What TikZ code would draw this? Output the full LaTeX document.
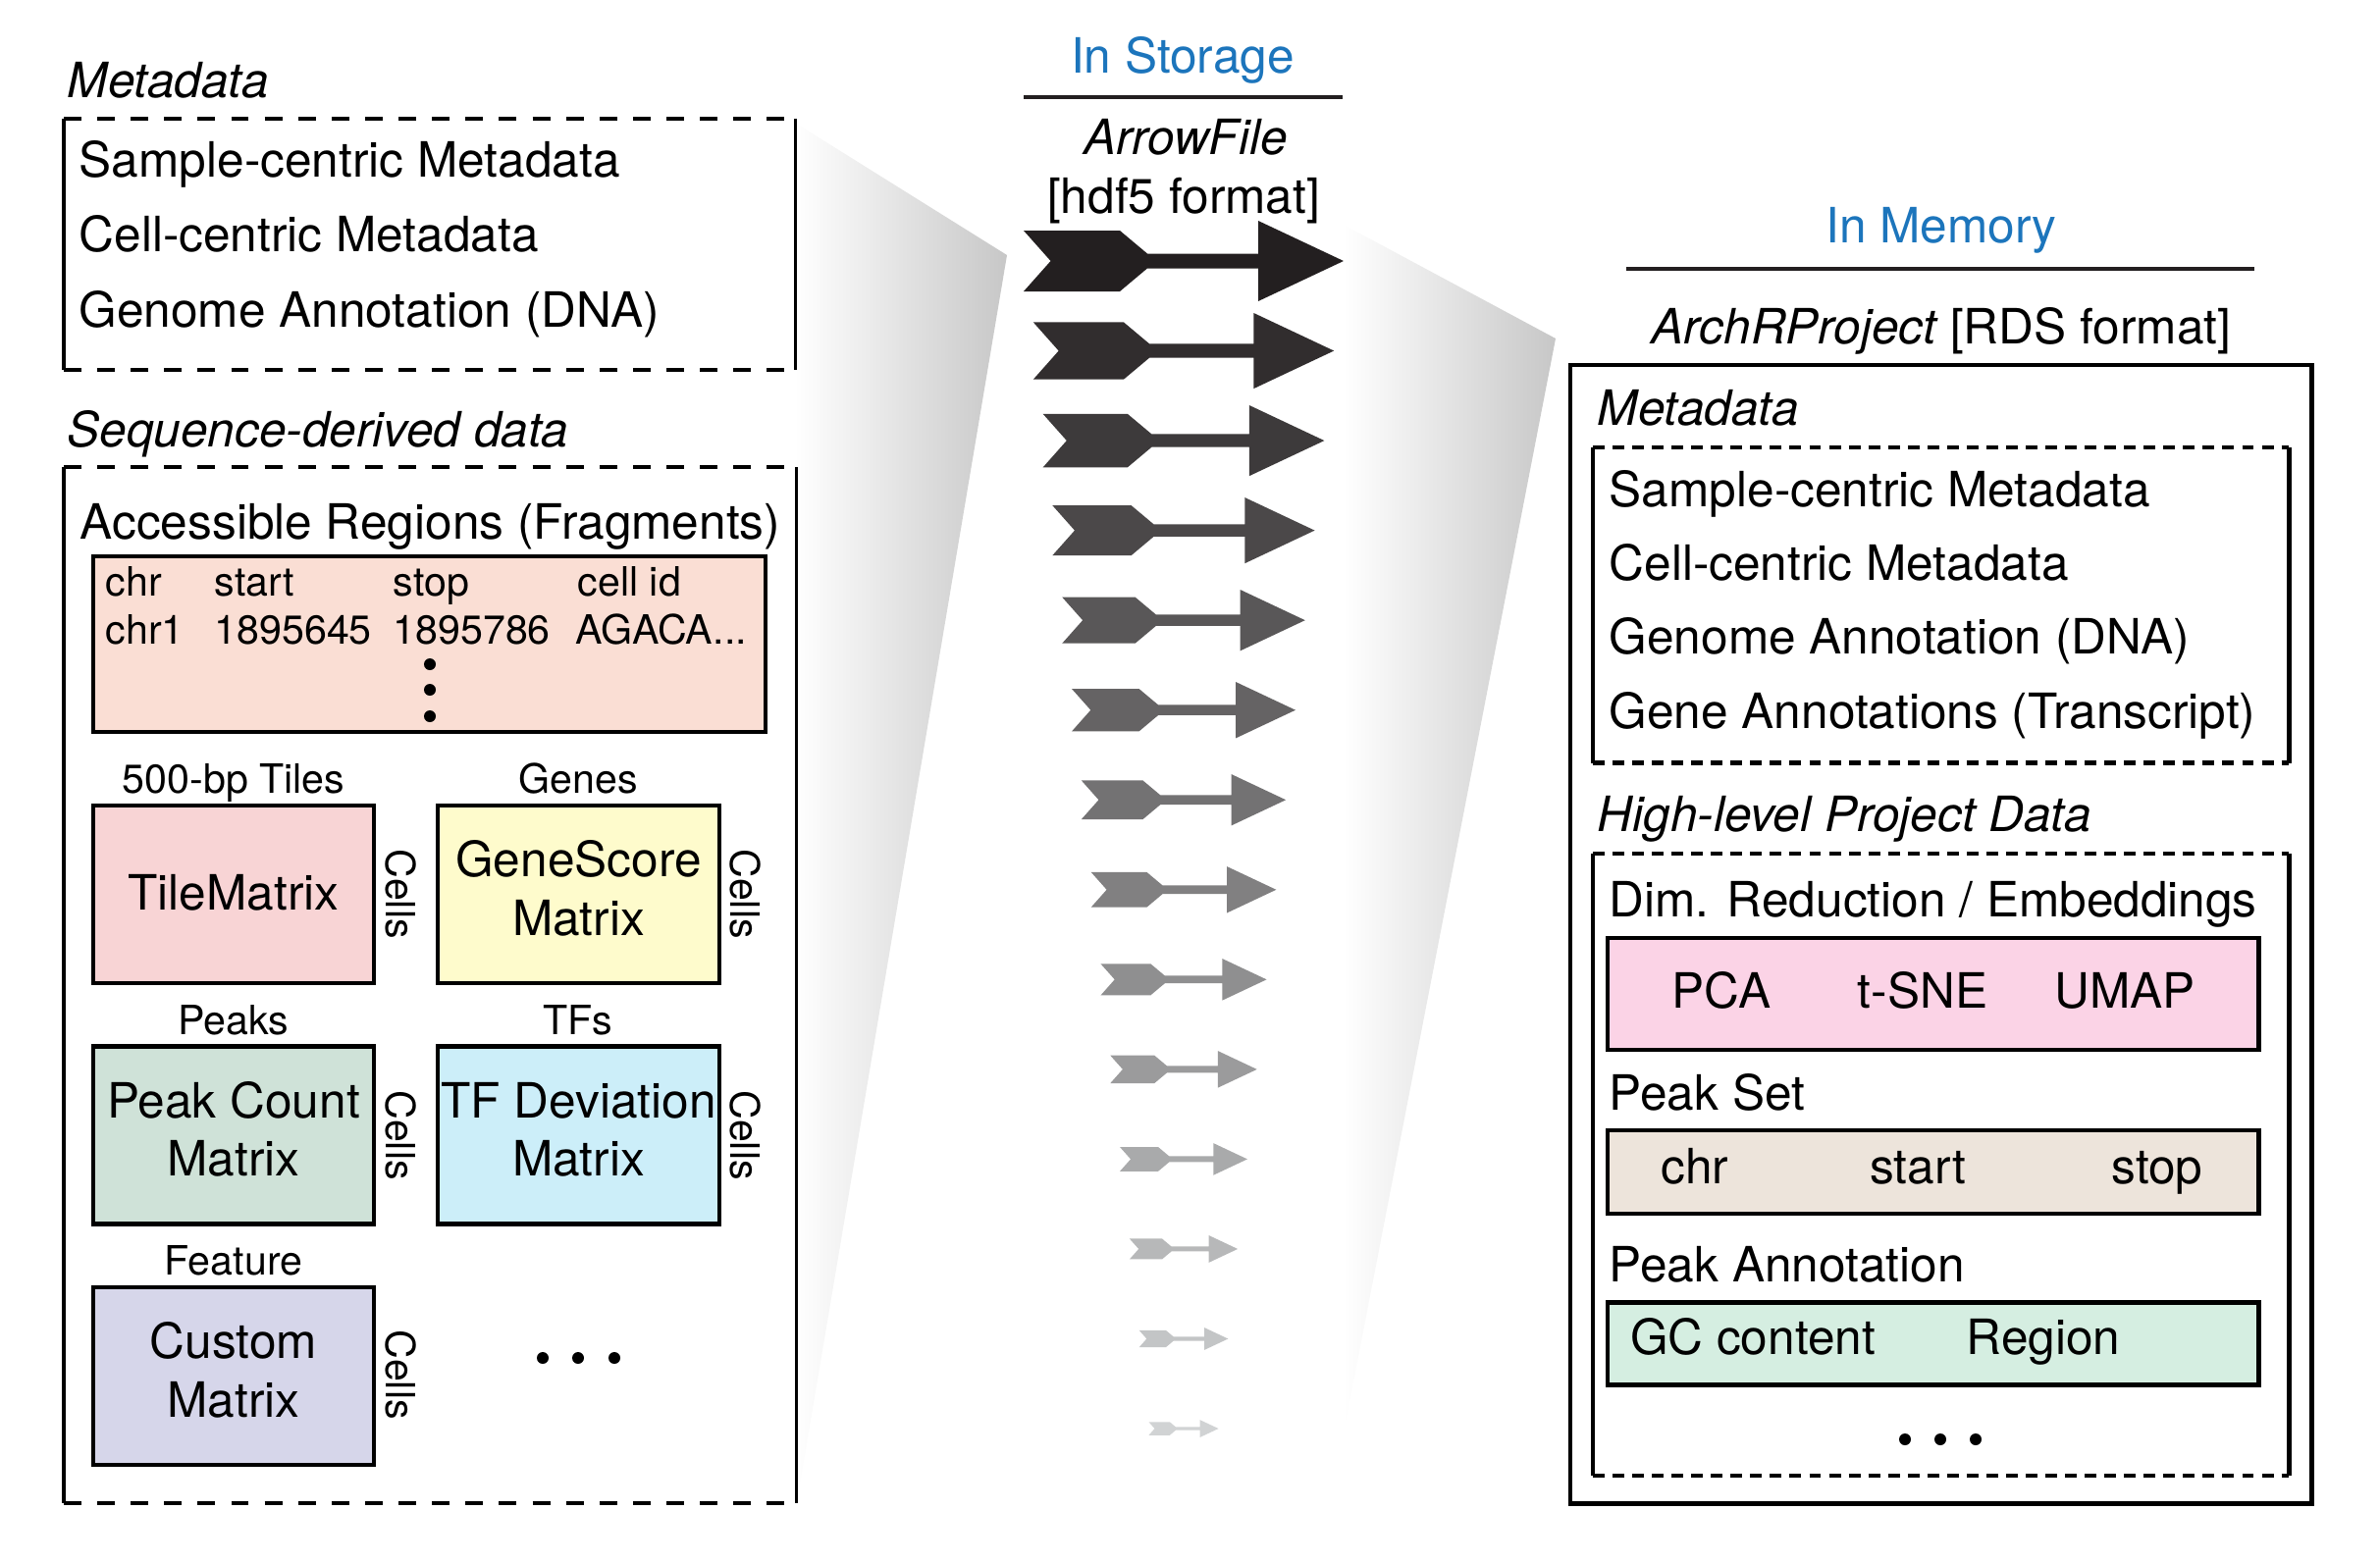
\documentclass[tikz,border=0pt]{standalone}
\usepackage{fontspec}
\setmainfont{TeX Gyre Heros}
\definecolor{blueT}{RGB}{28,117,188}
\definecolor{fragC}{RGB}{250,222,212}
\definecolor{tileC}{RGB}{248,212,213}
\definecolor{geneC}{RGB}{254,251,204}
\definecolor{peakC}{RGB}{207,226,216}
\definecolor{tfC}{RGB}{204,238,249}
\definecolor{custC}{RGB}{214,214,234}
\definecolor{pcaC}{RGB}{251,211,230}
\definecolor{chrC}{RGB}{237,228,219}
\definecolor{gcC}{RGB}{213,238,225}
\definecolor{arrD}{RGB}{35,31,32}
\definecolor{arrL}{RGB}{209,211,212}
\newcommand{\twoline}[2]{\raisebox{1.8pt}{\begin{tabular}{@{}c@{}}#1\\#2\end{tabular}}}
\tikzset{
  big/.style={font=\fontsize{14.1}{17}\selectfont, inner sep=0pt},
  small/.style={font=\fontsize{11.7}{14}\selectfont, inner sep=0pt},
  mbox/.style={draw=black, line width=1.3pt, inner sep=0pt, align=center,
               font=\fontsize{14.1}{17}\selectfont},
  area/.style={inner sep=0pt, outer sep=0pt},
  sideline/.style={line width=1.1pt},
  sidelineR/.style={line width=1.25pt},
  dashL/.style={line width=1.1pt, dash pattern=on 5.1pt off 4.6pt},
  dashR/.style={line width=1.25pt, dash pattern=on 3.4pt off 2.3pt},
  rule/.style={line width=1.2pt, color=arrD},
  cellslab/.style={small, rotate=-90},
}
\begin{document}
\begin{tikzpicture}[x=0.01cm, y=-0.01cm]
\useasboundingbox (0,0) rectangle (2425,1591);

% projection wedges
\shade[left color=white, right color=black!22] (810,125) -- (1026,260) -- (812,1531) -- (810,1531) -- cycle;
\shade[left color=white, right color=black!22] (1369,229) -- (1585,345) -- (1369,1460) -- cycle;

% ---------------- left side ----------------
\node[big, anchor=base west] (lmetaT) at (68,100) {\itshape Metadata};
\node[area, anchor=north west, minimum width=7.45cm, minimum height=2.56cm] (lmeta) at (65,121) {};
\draw[sideline] (lmeta.north west) -- (lmeta.south west);
\draw[sideline] (lmeta.north east) -- (lmeta.south east);
\draw[dashL] (lmeta.north west) -- (lmeta.north east);
\draw[dashL] (lmeta.south west) -- (lmeta.south east);
\node[big, anchor=base west] (ls1) at (80,180) {Sample-centric Metadata};
\node[big, anchor=base west] (ls2) at (80,256) {Cell-centric Metadata};
\node[big, anchor=base west] (ls3) at (80,333) {Genome Annotation (DNA)};

\node[big, anchor=base west] (seqT) at (68,455) {\itshape Sequence-derived data};
\node[area, anchor=north west, minimum width=7.46cm, minimum height=10.55cm] (seq) at (65,476) {};
\draw[sideline] (seq.north west) -- (seq.south west);
\draw[sideline] (seq.north east) -- (seq.south east);
\draw[dashL] (seq.north west) -- (seq.north east);
\draw[dashL] (seq.south west) -- (seq.south east);

\node[big, anchor=base west] (accT) at (81,549) {Accessible Regions (Fragments)};
\node[mbox, fill=fragC, minimum width=6.85cm, minimum height=1.79cm] (frag) at (437.5,656.5) {};
\node[small, anchor=base west] (h1) at (107,607) {chr};
\node[small, anchor=base west] (h2) at (218,607) {start};
\node[small, anchor=base west] (h3) at (400,607) {stop};
\node[small, anchor=base west] (h4) at (588,607) {cell id};
\node[small, anchor=base west] (r1) at (107,656) {chr1};
\node[small, anchor=base west] (r2) at (218,656) {1895645};
\node[small, anchor=base west] (r3) at (400,656) {1895786};
\node[small, anchor=base west] (r4) at (586,656) {AGACA...};
\fill (438,677) circle[radius=0.6mm];
\fill (438,703) circle[radius=0.6mm];
\fill (438,730) circle[radius=0.6mm];

\node[small, anchor=base] (tilesT) at (238,808) {500-bp Tiles};
\node[small, anchor=base] (genesT) at (589,808) {Genes};
\node[mbox, fill=tileC, minimum width=2.86cm, minimum height=1.81cm] (tile) at (238,911.5) {\raisebox{1.2pt}{TileMatrix}};
\node[mbox, fill=geneC, minimum width=2.87cm, minimum height=1.81cm] (gene) at (589.5,911.5) {\twoline{GeneScore}{Matrix}};
\node[cellslab] (c1) at (408,911) {Cells};
\node[cellslab] (c2) at (759,911) {Cells};

\node[small, anchor=base] (peaksT) at (238,1054) {Peaks};
\node[small, anchor=base] (tfsT) at (589,1054) {TFs};
\node[mbox, fill=peakC, minimum width=2.86cm, minimum height=1.81cm] (peak) at (238,1157) {\twoline{Peak Count}{Matrix}};
\node[mbox, fill=tfC, minimum width=2.87cm, minimum height=1.81cm] (tf) at (589.5,1157) {\twoline{TF Deviation}{Matrix}};
\node[cellslab] (c3) at (408,1157) {Cells};
\node[cellslab] (c4) at (759,1157) {Cells};

\node[small, anchor=base] (featT) at (238,1299) {Feature};
\node[mbox, fill=custC, minimum width=2.86cm, minimum height=1.81cm] (cust) at (238,1402.5) {\twoline{Custom}{Matrix}};
\node[cellslab] (c5) at (408,1401) {Cells};
\fill (553,1384) circle[radius=0.6mm];
\fill (589,1384) circle[radius=0.6mm];
\fill (626,1384) circle[radius=0.6mm];

% ---------------- middle ----------------
\node[big, anchor=base, text=blueT] (storT) at (1205,75) {In Storage};
\draw[rule] (1043,99) -- (1368,99);
\node[big, anchor=base] (arrowT) at (1208,157) {\itshape ArrowFile};
\node[big, anchor=base] (hdfT) at (1206,218) {[hdf5 format]};

\foreach \i in {0,...,13}{
  \pgfmathsetmacro\s{1-0.06016*\i}
  \pgfmathsetmacro\cy{266+91.54*\i}
  \pgfmathtruncatemacro\p{round(\i/13*100)}
  \colorlet{arrc}{arrL!\p!arrD}
  \fill[arrc, shift={(1206,\cy)}, scale=\s]
    (-163,-31) -- (-65,-31) -- (-37,-7.5) -- (76,-7.5) -- (76,-41) -- (163,0)
    -- (76,41) -- (76,7.5) -- (-37,7.5) -- (-65,31) -- (-163,31) -- (-135.5,0) -- cycle;
}

% ---------------- right side ----------------
\node[big, anchor=base, text=blueT] (memT) at (1978,247) {In Memory};
\draw[rule] (1657,274) -- (2297,274);
\node[big, anchor=base] (projT) at (1978,350) {\itshape ArchRProject\upshape{} [RDS format]};
\node[area, draw, line width=1.4pt, anchor=north west, minimum width=7.55cm, minimum height=11.6cm] (proj) at (1600,372) {};

\node[big, anchor=base west] (rmetaT) at (1627,433) {\itshape Metadata};
\node[area, anchor=north west, minimum width=7.09cm, minimum height=3.215cm] (rmeta) at (1623,456) {};
\draw[sidelineR] (rmeta.north west) -- (rmeta.south west);
\draw[sidelineR] (rmeta.north east) -- (rmeta.south east);
\draw[dashR] (rmeta.north west) -- (rmeta.north east);
\draw[dashR] (rmeta.south west) -- (rmeta.south east);
\node[big, anchor=base west] (rs1) at (1639,516) {Sample-centric Metadata};
\node[big, anchor=base west] (rs2) at (1639,591) {Cell-centric Metadata};
\node[big, anchor=base west] (rs3) at (1639,666) {Genome Annotation (DNA)};
\node[big, anchor=base west] (rs4) at (1639,742) {Gene Annotations (Transcript)};

\node[big, anchor=base west] (hlT) at (1627,847) {\itshape High-level Project Data};
\node[area, anchor=north west, minimum width=7.09cm, minimum height=6.335cm] (hl) at (1623,870) {};
\draw[sidelineR] (hl.north west) -- (hl.south west);
\draw[sidelineR] (hl.north east) -- (hl.south east);
\draw[dashR] (hl.north west) -- (hl.north east);
\draw[dashR] (hl.south west) -- (hl.south east);

\node[big, anchor=base west] (dimT) at (1639,934) {Dim. Reduction / Embeddings};
\node[mbox, fill=pcaC, minimum width=6.63cm, minimum height=1.14cm] (pca) at (1969.5,1013) {};
\node[big, anchor=base] (pcaA) at (1754,1027) {PCA};
\node[big, anchor=base] (pcaB) at (1959,1027) {t-SNE};
\node[big, anchor=base] (pcaC1) at (2165,1027) {UMAP};

\node[big, anchor=base west] (psT) at (1639,1131) {Peak Set};
\node[mbox, fill=chrC, minimum width=6.63cm, minimum height=0.85cm] (ps) at (1969.5,1194.5) {};
\node[big, anchor=base] (psA) at (1727,1206) {chr};
\node[big, anchor=base] (psB) at (1954,1206) {start};
\node[big, anchor=base] (psC) at (2198,1206) {stop};

\node[big, anchor=base west] (paT) at (1639,1306) {Peak Annotation};
\node[mbox, fill=gcC, minimum width=6.63cm, minimum height=0.84cm] (pa) at (1969.5,1369.5) {};
\node[big, anchor=base] (paA) at (1786,1380) {GC content};
\node[big, anchor=base] (paB) at (2082,1380) {Region};

\fill (1941,1467) circle[radius=0.6mm];
\fill (1977,1467) circle[radius=0.6mm];
\fill (2013,1467) circle[radius=0.6mm];
\end{tikzpicture}
\end{document}
